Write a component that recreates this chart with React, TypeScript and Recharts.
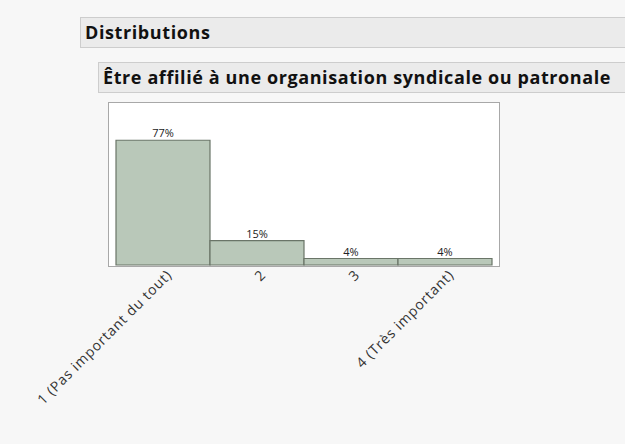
import { Bar, BarChart, LabelList, XAxis, YAxis } from "recharts";

const categories = ["1 (Pas important du tout)", "2", "3", "4 (Très important)"];
const percents = [77, 15, 4, 4];

const data = categories.map((name, i) => ({ name, value: percents[i] }));

const font = "'Open Sans', 'Noto Sans', sans-serif";

function RotatedTick(props: any) {
    const { x, y, payload } = props;
    return (
        <g transform={`translate(${x + 7},${y})`}>
            <text
                transform="rotate(-45)"
                textAnchor="end"
                dy={4}
                fontSize={14}
                letterSpacing={0.8}
                fontFamily={font}
                fill="#333"
            >
                {payload.value}
            </text>
        </g>
    );
}

export default function App() {
    return (
        <div style={{ position: "absolute", left: 0, top: 0, width: 625, height: 444, background: "#f7f7f7", fontFamily: font, overflow: "hidden" }}>
            <div style={{ position: "absolute", left: 80, top: 17, width: 560, height: 31, background: "#ebebeb", border: "1px solid #cdcdcd", boxSizing: "border-box" }}>
                <span style={{ position: "absolute", left: 4, top: 2, fontSize: 18, letterSpacing: 0.6, fontWeight: 700, color: "#111" }}>Distributions</span>
            </div>
            <div style={{ position: "absolute", left: 98, top: 62, width: 540, height: 31, background: "#ebebeb", border: "1px solid #cdcdcd", boxSizing: "border-box" }}>
                <span style={{ position: "absolute", left: 4, top: 2, fontSize: 18, letterSpacing: 0.6, fontWeight: 700, color: "#111" }}>Être affilié à une organisation syndicale ou patronale</span>
            </div>
            <div style={{ position: "absolute", left: 108, top: 102, width: 392, height: 165, background: "#fff", border: "1px solid #a8a8a8", boxSizing: "border-box" }} />
            <div style={{ position: "absolute", left: 0, top: 95 }}>
                <BarChart width={520} height={340} data={data} barCategoryGap={0} margin={{ top: 8, right: 28, bottom: 0, left: 116 }}>
                    <XAxis dataKey="name" axisLine={false} tickLine={false} interval={0} height={170} tick={<RotatedTick />} />
                    <YAxis hide domain={[0, 100]} />
                    <Bar dataKey="value" fill="#b9c8b9" stroke="#6a7568" strokeWidth={1.2} isAnimationActive={false}>
                        <LabelList dataKey="value" position="top" offset={3} formatter={(v: any) => `${v}%`} fontSize={11} fontFamily={font} fill="#222" />
                    </Bar>
                </BarChart>
            </div>
        </div>
    );
}
